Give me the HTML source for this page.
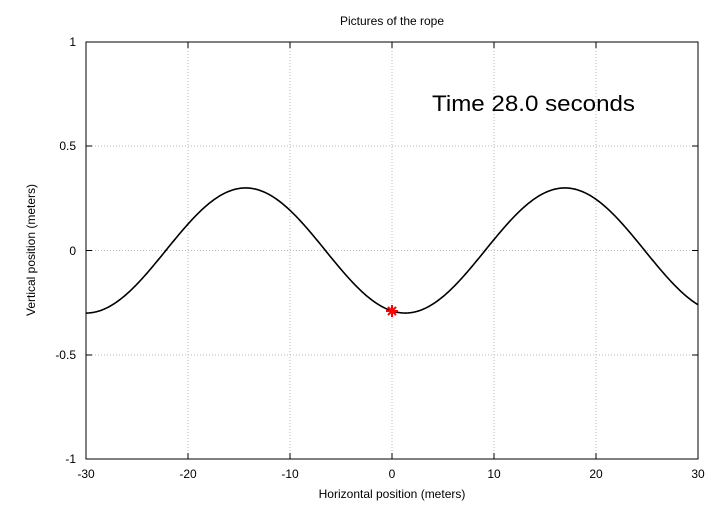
<!DOCTYPE html>
<html><head><style>body{margin:0;background:#fff}</style></head><body>
<svg id="s" width="720" height="504" xmlns="http://www.w3.org/2000/svg" font-family="Liberation Sans, sans-serif" font-size="12">
<rect width="720" height="504" fill="#fff"/>
<g stroke="#bbb" stroke-dasharray="1,2" stroke-width="1">
<line x1="188" y1="42" x2="188" y2="459"/><line x1="290" y1="42" x2="290" y2="459"/><line x1="392" y1="42" x2="392" y2="459"/><line x1="494" y1="42" x2="494" y2="459"/><line x1="596" y1="42" x2="596" y2="459"/>
<line x1="86" y1="146" x2="698" y2="146"/><line x1="86" y1="250.5" x2="698" y2="250.5"/><line x1="86" y1="355" x2="698" y2="355"/>
</g>
<rect x="86" y="42" width="612" height="417" fill="none" stroke="#000"/>
<g stroke="#000">
<line x1="86" y1="146" x2="92" y2="146"/><line x1="698" y1="146" x2="692" y2="146"/>
<line x1="86" y1="250.5" x2="92" y2="250.5"/><line x1="698" y1="250.5" x2="692" y2="250.5"/>
<line x1="86" y1="355" x2="92" y2="355"/><line x1="698" y1="355" x2="692" y2="355"/>
<line x1="188" y1="459" x2="188" y2="453"/><line x1="290" y1="459" x2="290" y2="453"/><line x1="392" y1="459" x2="392" y2="453"/><line x1="494" y1="459" x2="494" y2="453"/><line x1="596" y1="459" x2="596" y2="453"/>
<line x1="188" y1="42" x2="188" y2="48"/><line x1="290" y1="42" x2="290" y2="48"/><line x1="392" y1="42" x2="392" y2="48"/><line x1="494" y1="42" x2="494" y2="48"/><line x1="596" y1="42" x2="596" y2="48"/>
</g>
<g text-anchor="end">
<text x="76" y="46">1</text><text x="76" y="150">0.5</text><text x="76" y="255">0</text><text x="76" y="359">-0.5</text><text x="76" y="463">-1</text>
</g>
<g text-anchor="middle">
<text x="86" y="478">-30</text><text x="188" y="478">-20</text><text x="290" y="478">-10</text><text x="392" y="478">0</text><text x="494" y="478">10</text><text x="596" y="478">20</text><text x="698" y="478">30</text>
<text x="392" y="498">Horizontal position (meters)</text>
<text x="392" y="25">Pictures of the rope</text>
<text transform="translate(35,250) rotate(-90)">Vertical position (meters)</text>
</g>
<text x="432" y="111" font-size="22" textLength="203" lengthAdjust="spacingAndGlyphs">Time 28.0 seconds</text>
<polyline id="c" fill="none" stroke="#000" stroke-width="1.6"/>
<g stroke="red" stroke-width="2"><line x1="386" y1="311" x2="398" y2="311"/><line x1="392" y1="305" x2="392" y2="317"/><line x1="388" y1="307" x2="396" y2="315"/><line x1="388" y1="315" x2="396" y2="307"/></g>
</svg>
<script>
var p=[];for(var i=0;i<=600;i++){var x=-30+i*0.1;var y=-0.3*Math.cos(2*Math.PI*(x-1.3)/31.3);p.push((392+x*10.2).toFixed(2)+","+(250.5-y*208.5).toFixed(2));}
document.getElementById("c").setAttribute("points",p.join(" "));
</script>
</body></html>
